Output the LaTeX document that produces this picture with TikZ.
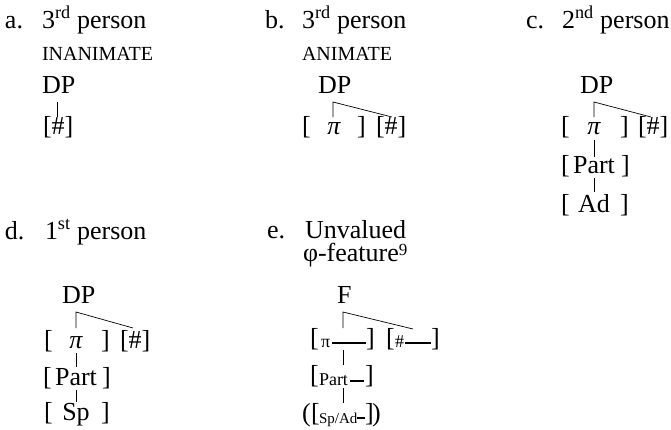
\documentclass[tikz,border=0pt]{standalone}
\usepackage{fontspec}
\setmainfont{Liberation Serif}
\begin{document}
\begin{tikzpicture}[x=1pt,y=-1pt,
  every node/.style={inner sep=0pt,outer sep=0pt},
  txt/.style={font=\fontsize{26}{30}\selectfont,anchor=base west},
  txtc/.style={font=\fontsize{26}{30}\selectfont,anchor=base},
  sc/.style={font=\fontsize{20}{23}\selectfont,anchor=base west},
  small/.style={font=\fontsize{18}{20}\selectfont,anchor=base west},
  tiny/.style={font=\fontsize{15}{18}\selectfont,anchor=base west},
  branch/.style={line width=0.7pt},
  slot/.style={line width=1.4pt}]
\useasboundingbox (0,0) rectangle (671,429);
% ---------- a ----------
\node[txt] (la) at (5,28) {a.};
\node[txt] (ha) at (42,28) {3\textsuperscript{rd} person};
\node[sc] (sa) at (42,60) {INANIMATE};
\node[txt] (dpa) at (42,93) {DP};
\node[txt] (numa) at (43,134) {[\#]};
\coordinate (ta) at (57,102);
\coordinate (ba) at (57,117);
\draw[branch] (ta) -- (ba);
% ---------- b ----------
\node[txt] (lb) at (265,28) {b.};
\node[txt] (hb) at (302,28) {3\textsuperscript{rd} person};
\node[sc] (sb) at (302,60) {ANIMATE};
\node[txt] (dpb) at (318,93) {DP};
\node[txt] (lbb) at (302,134) {[};
\node[txtc] (pib) at (334,134) {\itshape π};
\node[txt] (rbb) at (357,134) {]};
\node[txt] (numb) at (376,134) {[\#]};
\coordinate (tb) at (333,102);
\coordinate (bb) at (333,117);
\coordinate (db) at (392,117);
\draw[branch] (bb) -- (tb) -- (db);
% ---------- c ----------
\node[txt] (lc) at (526,28) {c.};
\node[txt] (hc) at (562,28) {2\textsuperscript{nd} person};
\node[txt] (dpc) at (580,93) {DP};
\node[txt] (lbc) at (561,134) {[};
\node[txtc] (pic) at (594,134) {\itshape π};
\node[txt] (rbc) at (620,134) {]};
\node[txt] (numc) at (638,134) {[\#]};
\node[txt] (lpc) at (561,173) {[};
\node[txtc] (partc) at (594,173) {Part};
\node[txt] (rpc) at (621,173) {]};
\node[txt] (lac) at (561,212) {[};
\node[txtc] (adc) at (594,212) {Ad};
\node[txt] (rac) at (620,212) {]};
\coordinate (tc) at (594,102);
\coordinate (bc) at (594,117);
\coordinate (dc) at (651,117);
\draw[branch] (bc) -- (tc) -- (dc);
\draw[branch] (594,140) -- (594,157);
\draw[branch] (594,178) -- (594,192);
% ---------- d ----------
\node[txt] (ld) at (5,239) {d.};
\node[txt] (hd) at (45,239) {1\textsuperscript{st} person};
\node[txt] (dpd) at (62,303) {DP};
\node[txt] (lbd) at (44,348) {[};
\node[txtc] (pid) at (76,348) {\itshape π};
\node[txt] (rbd) at (101,348) {]};
\node[txt] (numd) at (120,348) {[\#]};
\node[txt] (lpd) at (43,385) {[};
\node[txtc] (partd) at (76,385) {Part};
\node[txt] (rpd) at (102,385) {]};
\node[txt] (lsd) at (44,420) {[};
\node[txtc] (spd) at (76,420) {Sp};
\node[txt] (rsd) at (101,420) {]};
\coordinate (td) at (76,312);
\coordinate (bd) at (76,328);
\coordinate (dd) at (133,328);
\draw[branch] (bd) -- (td) -- (dd);
\draw[branch] (76,353) -- (76,367);
\draw[branch] (76,390) -- (76,402);
% ---------- e ----------
\node[txt] (le) at (267,238) {e.};
\node[txt] (he) at (305,238) {Unvalued};
\node[txt] (he2) at (303,261) {φ-feature\raisebox{6pt}{\fontsize{17}{19}\selectfont 9}};
\node[txt] (fe) at (337,303) {F};
\node[txt] (l1e) at (310,346) {[};
\node[small] (pie) at (321,347) {π};
\node[txt] (r1e) at (366,346) {]};
\node[txt] (l2e) at (386,346) {[};
\node[small] (nume) at (395,347) {\#};
\node[txt] (r2e) at (431,346) {]};
\node[txt] (l3e) at (310,383) {[};
\node[small] (parte) at (319,385) {Part};
\node[txt] (r3e) at (365,383) {]};
\node[txt] (p4e) at (302,421) {(};
\node[txt] (l4e) at (311,421) {[};
\node[tiny] (spe) at (319,423) {Sp/Ad};
\node[txt] (r4e) at (365,421) {]};
\node[txt] (q4e) at (372,421) {)};
\draw[slot] (332,343) -- (366,343);
\draw[slot] (405,343) -- (431,343);
\draw[slot] (350,381) -- (364,381);
\draw[slot] (357,418) -- (365,418);
\coordinate (te) at (343,312);
\coordinate (be) at (343,328);
\coordinate (de) at (413,329);
\draw[branch] (be) -- (te) -- (de);
\draw[branch] (343,350) -- (343,365);
\draw[branch] (343,388) -- (343,403);
\end{tikzpicture}
\end{document}
